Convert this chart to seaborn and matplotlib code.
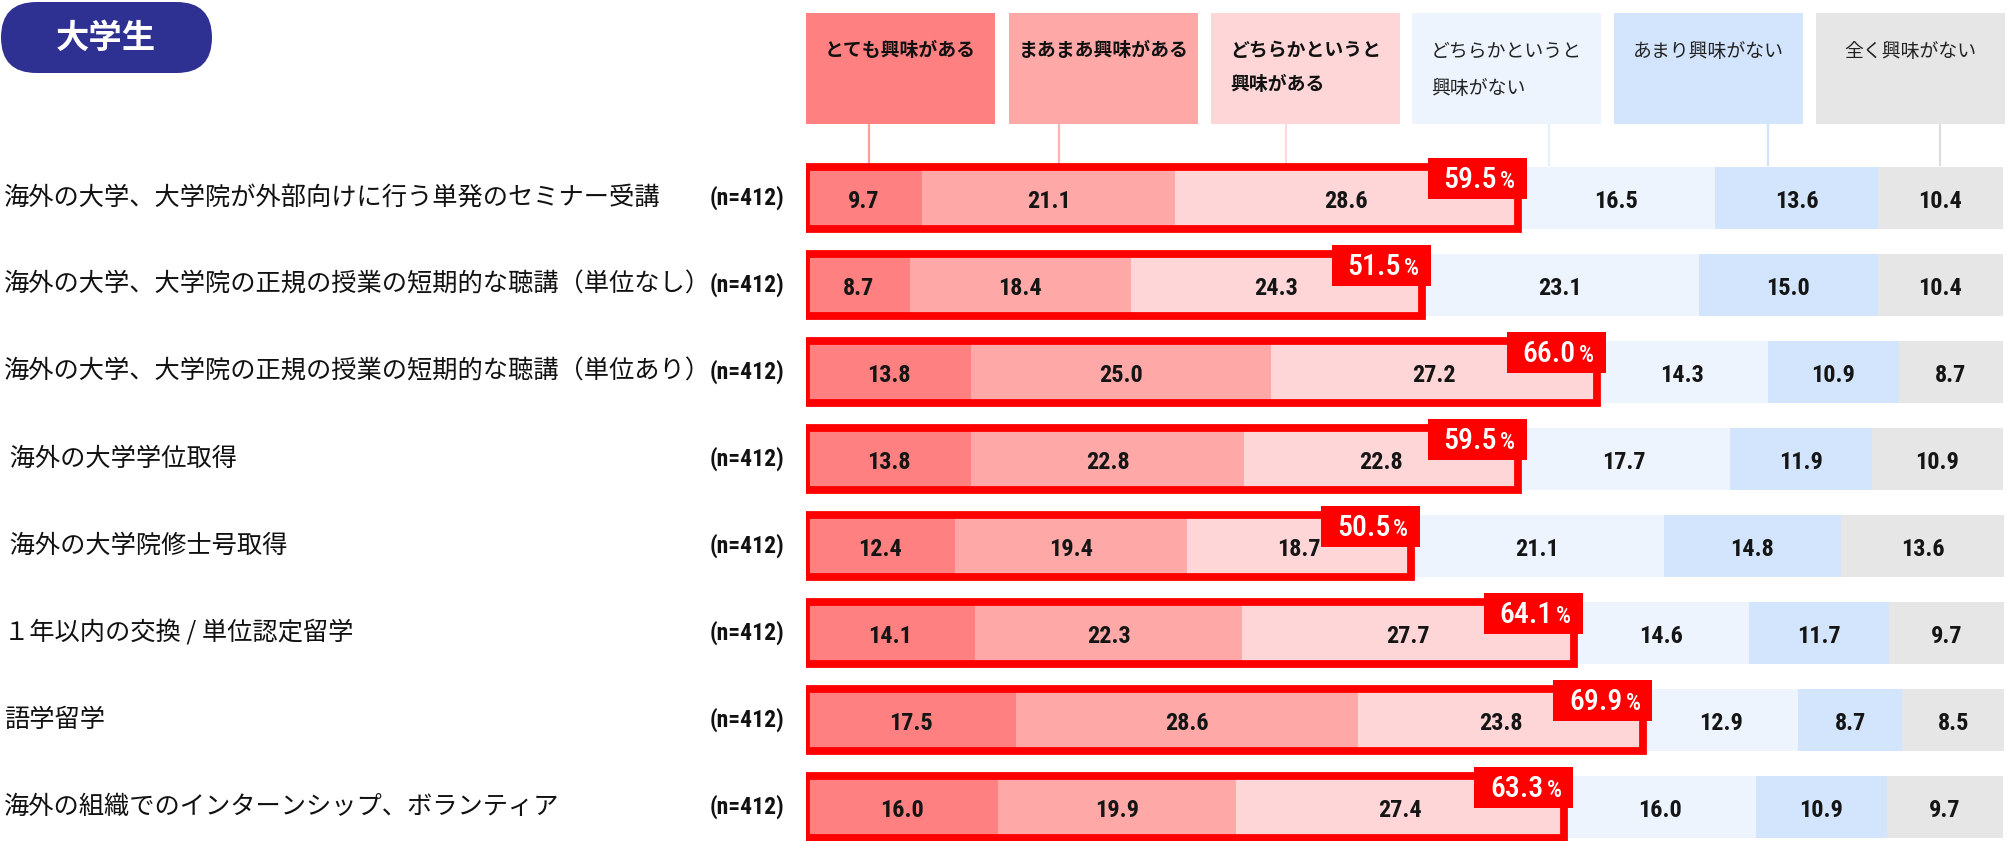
import numpy as np
import pandas as pd
import seaborn as sns
import matplotlib
matplotlib.use("Agg")
import matplotlib.pyplot as plt
from matplotlib.patches import Rectangle, FancyBboxPatch

# ---------------- data ----------------
categories = [
    "海外の大学、大学院が外部向けに行う単発のセミナー受講",
    "海外の大学、大学院の正規の授業の短期的な聴講（単位なし）",
    "海外の大学、大学院の正規の授業の短期的な聴講（単位あり）",
    " 海外の大学学位取得",
    " 海外の大学院修士号取得",
    "１年以内の交換 / 単位認定留学",
    "語学留学",
    "海外の組織でのインターンシップ、ボランティア",
]
sample_labels = ["(n=412)"] * 8
legend_labels = [
    "とても興味がある",
    "まあまあ興味がある",
    "どちらかというと\n興味がある",
    "どちらかというと\n興味がない",
    "あまり興味がない",
    "全く興味がない",
]
very = [9.7, 8.7, 13.8, 13.8, 12.4, 14.1, 17.5, 16.0]
fairly = [21.1, 18.4, 25.0, 22.8, 19.4, 22.3, 28.6, 19.9]
somewhat = [28.6, 24.3, 27.2, 22.8, 18.7, 27.7, 23.8, 27.4]
somewhat_not = [16.5, 23.1, 14.3, 17.7, 21.1, 14.6, 12.9, 16.0]
not_much = [13.6, 15.0, 10.9, 11.9, 14.8, 11.7, 8.7, 10.9]
not_at_all = [10.4, 10.4, 8.7, 10.9, 13.6, 9.7, 8.5, 9.7]
interested_total = [59.5, 51.5, 66.0, 59.5, 50.5, 64.1, 69.9, 63.3]
badge_text = "大学生"

# ---------------- style ----------------
colors = ["#FF8080", "#FFA8A8", "#FFD6D8", "#EDF4FE", "#D2E5FD", "#E6E6E6"]
line_colors = ["#FF9C9C", "#FFB2B2", "#FFD9DB", "#E6EFFC", "#CFE1FB", "#DDDDDD"]
RED = "#FF0000"
NAVY = "#2E3192"

sns.set_style("white")
plt.rcParams["font.family"] = ["Noto Sans CJK JP", "DejaVu Sans"]
NUM = ["Roboto Condensed", "Liberation Sans Narrow", "Roboto", "DejaVu Sans"]

W, H = 2007, 841
fig = plt.figure(figsize=(W / 100, H / 100), dpi=100)

# overlay axes in pixel coordinates
pax = fig.add_axes([0, 0, 1, 1], zorder=0)
pax.set_xlim(0, W)
pax.set_ylim(H, 0)
pax.axis("off")

X0, X1 = 806, 2004
ROW0, DY = 198, 87
BAR_H = 0.72

ax = fig.add_axes([X0 / W, 0, (X1 - X0) / W, 1], zorder=1)
ax.patch.set_alpha(0)

series = [very, fairly, somewhat, somewhat_not, not_much, not_at_all]
vals = np.array(series)
cum = np.cumsum(vals, axis=0)

df = pd.DataFrame({"item": categories})
for k in range(5, -1, -1):
    df["cum"] = cum[k]
    sns.barplot(data=df, x="cum", y="item", order=categories, orient="h",
                color=colors[k], saturation=1, width=BAR_H, linewidth=0,
                errorbar=None, ax=ax)

# segment value labels
for k in range(6):
    for i in range(len(categories)):
        v = vals[k, i]
        ax.text(cum[k, i] - v / 2, i + 0.04, f"{v:.1f}", ha="center", va="center",
                fontsize=17.5, family=NUM, fontweight=600, color="#151515", zorder=4)

# red outlines and total boxes
px_per_unit = (X1 - X0) / 100.0
BOXW = 99 / px_per_unit
BOXH = 41 / DY
for i in range(len(categories)):
    s3 = cum[2, i]
    top = i - BAR_H / 2
    ax.add_patch(Rectangle((0, top), s3, BAR_H, fill=False, ec=RED, lw=5.6,
                           joinstyle="miter", zorder=5))
    ax.add_patch(Rectangle((s3 + 9 / px_per_unit - BOXW, top - 9 / DY), BOXW, BOXH,
                           fc=RED, ec="none", zorder=6))
    ax.annotate(f"{interested_total[i]:.1f}", xy=(s3, top), xytext=(-15.0, -15.5),
                textcoords="offset points", ha="right", va="baseline", color="white",
                fontsize=21.5, family=NUM, fontweight="medium", zorder=7)
    ax.annotate("%", xy=(s3, top), xytext=(-2.0, -15.5),
                textcoords="offset points", ha="right", va="baseline", color="white",
                fontsize=17, family=NUM, fontweight="medium", zorder=7)

ax.set_xlim(0, 100)
ax.set_ylim((H - ROW0) / DY, -ROW0 / DY)
ax.axis("off")

# category + n labels
for i, (c, n) in enumerate(zip(categories, sample_labels)):
    y = ROW0 + DY * i
    pax.text(4, y, c, ha="left", va="center", fontsize=18.2, color="#111111")
    pax.text(710, y, n, ha="left", va="center", fontsize=17, family=NUM,
             color="#111111", fontweight=600)

# legend boxes
LEG_X = [806, 1009, 1211, 1412, 1614, 1816]
LEG_W = 189
LINE_X = [869, 1059, 1286, 1549, 1768, 1940]
for j, lab in enumerate(legend_labels):
    pax.add_patch(Rectangle((LEG_X[j], 13), LEG_W, 111, fc=colors[j], ec="none"))
    pax.text(LEG_X[j] + LEG_W / 2, 41, lab, ha="center", va="top", multialignment="left",
             fontsize=13.6, linespacing=2.0,
             fontweight="bold" if j < 3 else "normal",
             color="#111111" if j < 3 else "#222222")
    pax.plot([LINE_X[j], LINE_X[j]], [124, 166], color=line_colors[j], lw=1.6,
             solid_capstyle="butt")

# badge
pax.add_patch(FancyBboxPatch((1, 2), 211, 71, boxstyle="round,pad=0,rounding_size=35.5",
                             fc=NAVY, ec="none"))
pax.text(106, 38, badge_text, ha="center", va="center", fontsize=24,
         fontweight="bold", color="white")

fig.savefig("out.png", dpi=100, facecolor="white")
